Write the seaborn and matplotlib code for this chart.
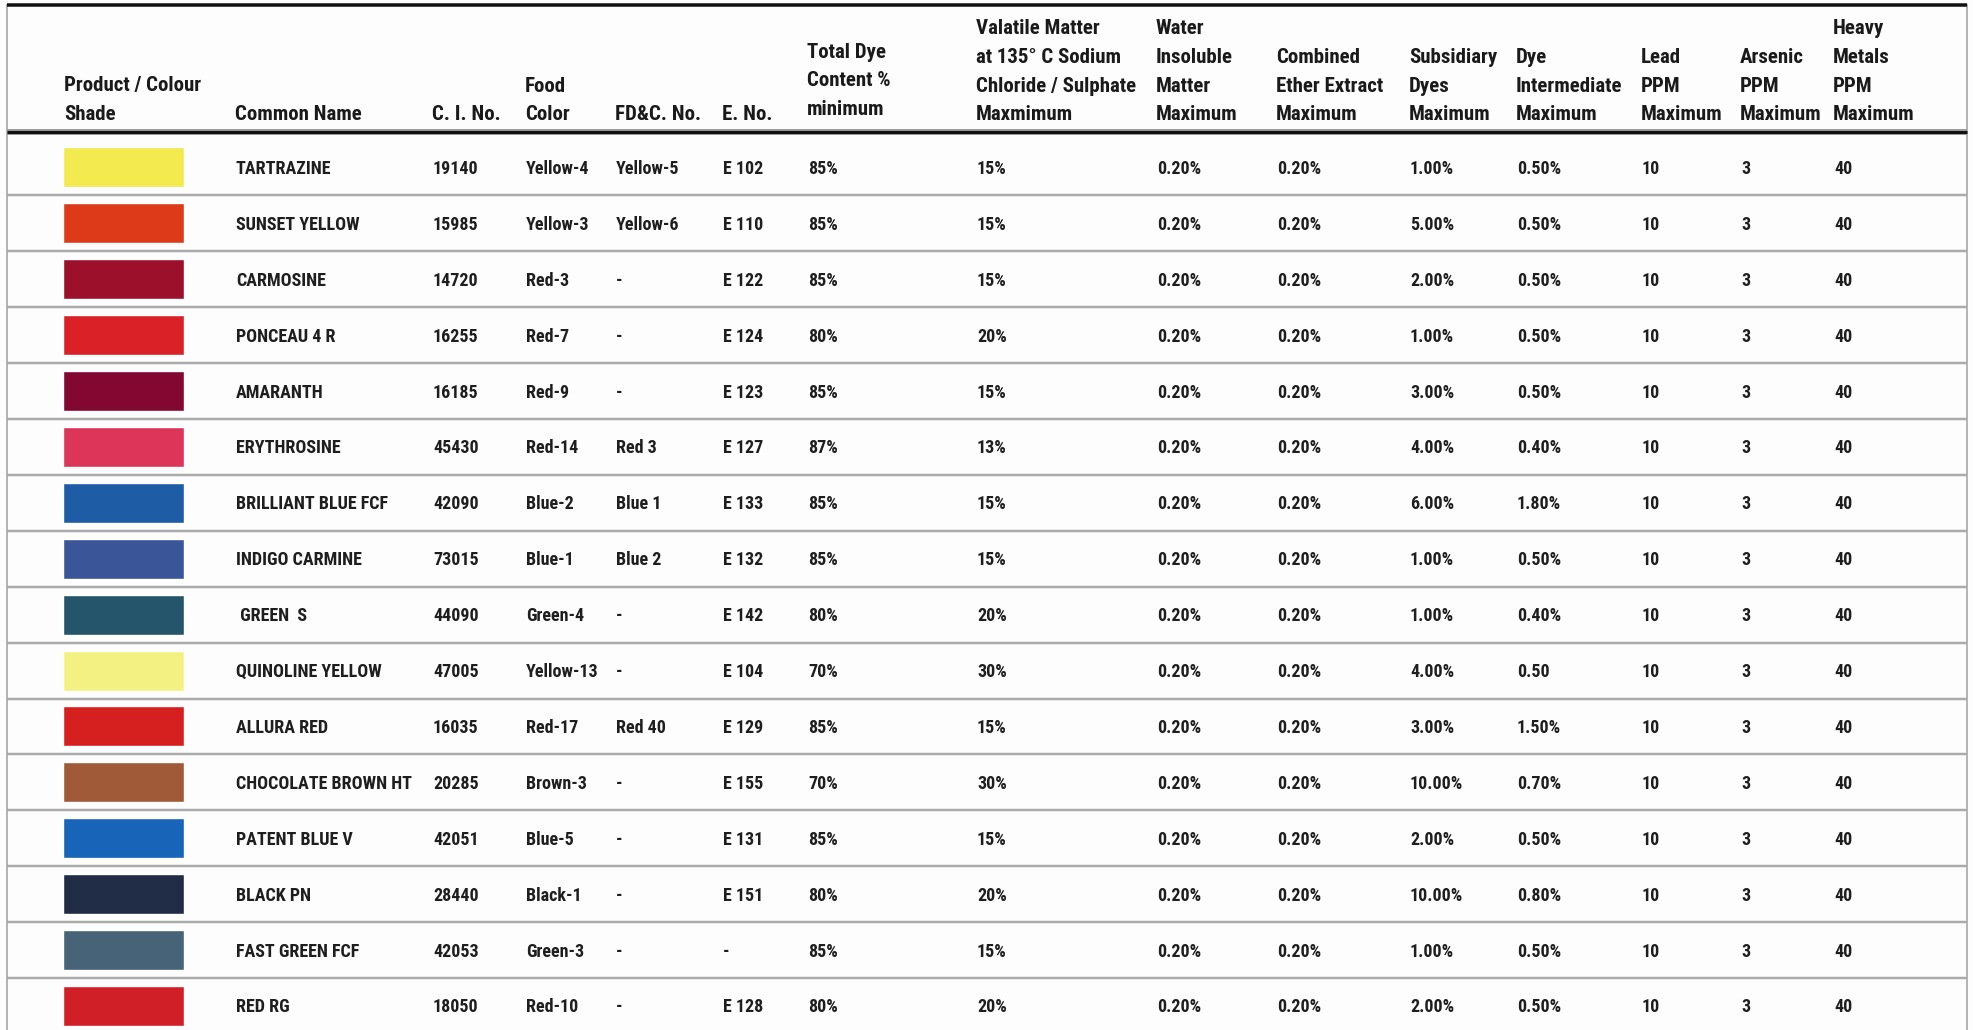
import numpy as np
import pandas as pd
import matplotlib.pyplot as plt
import seaborn as sns
from matplotlib import font_manager

# table data
common_names = ["TARTRAZINE", "SUNSET YELLOW", "CARMOSINE", "PONCEAU 4 R", "AMARANTH",
                "ERYTHROSINE", "BRILLIANT BLUE FCF", "INDIGO CARMINE", " GREEN  S",
                "QUINOLINE YELLOW", "ALLURA RED", "CHOCOLATE BROWN HT", "PATENT BLUE V",
                "BLACK PN", "FAST GREEN FCF", "RED RG"]
shade_colors = ["#F2EA4E", "#DC3A18", "#9C102C", "#D92127", "#830831", "#DD3459",
                "#1E5CA6", "#3A5598", "#25556B", "#F4F183", "#D61F1F", "#A15A37",
                "#1764B9", "#212C46", "#466377", "#D11F27"]
ci_no = ["19140", "15985", "14720", "16255", "16185", "45430", "42090", "73015",
         "44090", "47005", "16035", "20285", "42051", "28440", "42053", "18050"]
food_color = ["Yellow-4", "Yellow-3", "Red-3", "Red-7", "Red-9", "Red-14", "Blue-2", "Blue-1",
              "Green-4", "Yellow-13", "Red-17", "Brown-3", "Blue-5", "Black-1", "Green-3", "Red-10"]
fdc_no = ["Yellow-5", "Yellow-6", "-", "-", "-", "Red 3", "Blue 1", "Blue 2",
          "-", "-", "Red 40", "-", "-", "-", "-", "-"]
e_no = ["E 102", "E 110", "E 122", "E 124", "E 123", "E 127", "E 133", "E 132",
        "E 142", "E 104", "E 129", "E 155", "E 131", "E 151", "-", "E 128"]
total_dye = ["85%", "85%", "85%", "80%", "85%", "87%", "85%", "85%",
             "80%", "70%", "85%", "70%", "85%", "80%", "85%", "80%"]
volatile = ["15%", "15%", "15%", "20%", "15%", "13%", "15%", "15%",
            "20%", "30%", "15%", "30%", "15%", "20%", "15%", "20%"]
water_insoluble = ["0.20%"] * 16
ether_extract = ["0.20%"] * 16
subsidiary = ["1.00%", "5.00%", "2.00%", "1.00%", "3.00%", "4.00%", "6.00%", "1.00%",
              "1.00%", "4.00%", "3.00%", "10.00%", "2.00%", "10.00%", "1.00%", "2.00%"]
intermediate = ["0.50%", "0.50%", "0.50%", "0.50%", "0.50%", "0.40%", "1.80%", "0.50%",
                "0.40%", "0.50", "1.50%", "0.70%", "0.50%", "0.80%", "0.50%", "0.50%"]
lead = ["10"] * 16
arsenic = ["3"] * 16
heavy = ["40"] * 16

headers = [["Product / Colour", "Shade"], ["Common Name"], ["C. I. No."], ["Food", "Color"],
           ["FD&C. No."], ["E. No."], ["Total Dye", "Content %", "minimum"],
           ["Valatile Matter", "at 135\u00b0 C Sodium", "Chloride / Sulphate", "Maxmimum"],
           ["Water", "Insoluble", "Matter", "Maximum"], ["Combined", "Ether Extract", "Maximum"],
           ["Subsidiary", "Dyes", "Maximum"], ["Dye", "Intermediate", "Maximum"],
           ["Lead", "PPM", "Maximum"], ["Arsenic", "PPM", "Maximum"],
           ["Heavy", "Metals", "PPM", "Maximum"]]

df = pd.DataFrame({"Common Name": common_names, "C. I. No.": ci_no, "Food Color": food_color,
                   "FD&C. No.": fdc_no, "E. No.": e_no, "Total Dye": total_dye,
                   "Volatile": volatile, "Water": water_insoluble, "Ether": ether_extract,
                   "Subsidiary": subsidiary, "Intermediate": intermediate,
                   "Lead": lead, "Arsenic": arsenic, "Heavy": heavy})

# layout (pixels)
col_x = [64, 235, 432, 525, 615, 722, 807, 976, 1156, 1276, 1409, 1516, 1641, 1740, 1833]
row_top = 139.5
row_h = 55.9
left, right = 7, 1967

sns.set_theme(style="white")

# the reference uses a narrow grotesque; use a condensed face if there is one
installed = {f.name for f in font_manager.fontManager.ttflist}
if 'Roboto Condensed' in installed:
    fam, head_fs, body_fs = 'Roboto Condensed', 15, 13
elif 'Liberation Sans Narrow' in installed:
    fam, head_fs, body_fs = 'Liberation Sans Narrow', 15, 13
else:
    fam, head_fs, body_fs = 'Liberation Sans', 12.8, 11.3
plt.rcParams['font.family'] = [fam, 'DejaVu Sans']

fig, ax = plt.subplots(figsize=(19.73, 10.30), dpi=100)
fig.patch.set_facecolor("#fdfdfd")
fig.subplots_adjust(left=0, right=1, top=1, bottom=0)
ax.set_xlim(0, 1973)
ax.set_ylim(1030, 0)
ax.axis('off')

px = 0.72  # points per pixel at 100 dpi

# borders
ax.vlines([left, right], 4, 1030, color="#b5b5b5", lw=2 * px)
ax.hlines(5, left, right, color="#111111", lw=3.5 * px)
ax.hlines(132, left, right, color="#9a9a9a", lw=6 * px)
ax.hlines(132, left, right, color="#111111", lw=3 * px)

row_c = row_top + row_h * (np.arange(len(df)) + 0.5)
ax.hlines(row_c[:-1] + row_h / 2, left, right, color="#ababab", lw=2.5 * px)

# header
last_base = [120, 120, 120, 120, 120, 120, 115, 120, 120, 120, 120, 120, 120, 120, 120]
for x, lines, base in zip(col_x, headers, last_base):
    n = len(lines)
    for i, s in enumerate(lines):
        ax.text(x, base - (n - 1 - i) * 28.5, s, fontsize=head_fs, fontweight='bold',
                color="#1a1a1a", ha='left', va='baseline')

# colour shade swatches
ax.barh(row_c, 121, left=63, height=40, color=shade_colors)

# body cells
for j, col in enumerate(df.columns):
    for i, val in enumerate(df[col]):
        ax.text(col_x[j + 1] + 1, row_c[i] + 6.5, val, fontsize=body_fs, fontweight='bold',
                color="#1e1e1e", ha='left', va='baseline')

fig.savefig("out.png", dpi=100, facecolor=fig.get_facecolor())
